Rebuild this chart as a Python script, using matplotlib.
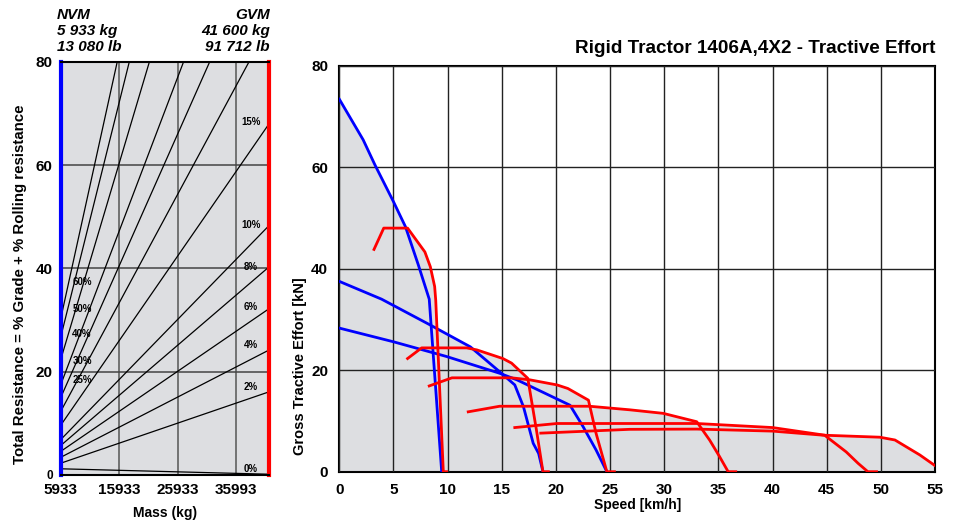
import matplotlib.pyplot as plt
import numpy as np

plt.rcParams['font.family'] = ['Liberation Sans', 'DejaVu Sans']
plt.rcParams['font.weight'] = 'bold'

# left panel: resistance lines (kN) at NVM and GVM mass
nvm_kg = 5933
gvm_kg = 41600
grades = ['0%', '2%', '4%', '6%', '8%', '10%', '15%', '20%', '25%', '30%', '40%', '50%', '60%']
res_at_nvm = [1.2, 2.3, 3.45, 4.6, 5.75, 6.9, 9.7, 12.4, 15.1, 17.6, 22.5, 26.9, 30.5]
res_at_gvm = [0.15, 16.1, 24.2, 32.2, 40.3, 48.3, 68.0, 87.2, 105.9, 123.5, 157.8, 188.6, 213.6]
mass_ticks = [5933, 15933, 25933, 35993]

right_labels = ['15%', '10%', '8%', '6%', '4%', '2%', '0%']
right_label_y = [68.4, 48.4, 40.3, 32.5, 25.2, 17.0, 1.2]
left_labels = ['60%', '50%', '40%', '30%', '25%']
left_label_y = [37.4, 32.2, 27.3, 22.1, 18.4]

# right panel: tractive effort curves (speed km/h, effort kN)
blue_1_v = [0, 2.2, 3.3, 5.0, 6.1, 7.3, 8.3, 9.45]
blue_1_f = [73.4, 65.4, 60.4, 53.2, 48.3, 40.7, 34.0, 0]
blue_2_v = [0, 3.9, 8.4, 12.1, 14.8, 16.2, 17.0, 17.9, 18.4, 18.8]
blue_2_f = [37.5, 34.0, 28.9, 24.6, 19.7, 17.1, 12.8, 5.6, 3.6, 0]
blue_3_v = [0, 5.0, 9.9, 14.8, 16.4, 21.3, 22.5, 23.7, 24.7]
blue_3_f = [28.3, 25.6, 22.7, 19.4, 18.1, 13.1, 8.9, 4.3, 0]

red_1_v = [3.2, 4.1, 6.3, 7.9, 8.4, 8.8, 8.9, 9.6, 9.9]
red_1_f = [43.8, 48.0, 48.0, 43.3, 40.4, 36.5, 33.8, 0, 0]
red_2_v = [6.3, 7.6, 11.75, 12.7, 15.1, 15.9, 17.4, 18.2, 18.8, 19.3]
red_2_f = [22.3, 24.4, 24.4, 24.0, 22.3, 21.4, 18.4, 8.2, 0, 0]
red_3_v = [8.3, 10.4, 15.9, 17.6, 20.1, 21.1, 23.0, 23.7, 24.7, 25.4]
red_3_f = [16.9, 18.5, 18.5, 18.1, 17.1, 16.4, 14.1, 7.6, 0, 0]
red_4_v = [11.9, 14.8, 23.1, 26.8, 29.9, 33.0, 34.2, 35.1, 35.9, 36.6]
red_4_f = [11.8, 12.9, 12.9, 12.2, 11.5, 9.85, 6.2, 3.0, 0, 0]
red_5_v = [16.2, 20.1, 26.8, 33.0, 40.0, 44.8, 46.8, 47.9, 48.8, 49.6]
red_5_f = [8.7, 9.5, 9.5, 9.5, 8.7, 7.2, 3.9, 1.65, 0, 0]
red_6_v = [18.6, 26.8, 33.0, 40.0, 44.65, 49.9, 51.3, 53.6, 55.0]
red_6_f = [7.6, 8.35, 8.4, 8.0, 7.2, 6.8, 6.25, 3.3, 1.2]

blues = [(blue_1_v, blue_1_f), (blue_2_v, blue_2_f), (blue_3_v, blue_3_f)]
reds = [(red_1_v, red_1_f), (red_2_v, red_2_f), (red_3_v, red_3_f),
        (red_4_v, red_4_f), (red_5_v, red_5_f), (red_6_v, red_6_f)]

fill_col = '#dddee1'

fig = plt.figure(figsize=(9.54, 5.21), dpi=100)

# ---- left panel ----
ax1 = fig.add_axes([0.0639, 0.0883, 0.218, 0.7927])
ax1.set_facecolor(fill_col)
ax1.set_xlim(nvm_kg, gvm_kg)
ax1.set_ylim(0, 80)
for m in mass_ticks[1:]:
    ax1.axvline(m, color='#555555', lw=1.1, zorder=1)
for r in [20, 40, 60]:
    ax1.axhline(r, color='#444444', lw=1.1, zorder=1)
for a, b in zip(res_at_nvm, res_at_gvm):
    ax1.plot([nvm_kg, gvm_kg], [a, b], color='black', lw=0.9, zorder=2)
for lab, y in zip(right_labels, right_label_y):
    ax1.text(38500, y, lab, fontsize=7, ha='center', va='center', zorder=3)
for lab, y in zip(left_labels, left_label_y):
    ax1.text(9551, y, lab, fontsize=7, ha='center', va='center', zorder=3)
ax1.set_xticks(mass_ticks)
ax1.set_xticklabels([str(m) for m in mass_ticks], fontsize=11, fontweight='bold')
ax1.set_yticks([0, 20, 40, 60, 80])
ax1.set_yticklabels(['0', '20', '40', '60', '80'], fontsize=11, fontweight='bold')
ax1.get_yticklabels()[0].set_fontsize(8.5)
ax1.tick_params(length=0, pad=6)
ax1.spines['left'].set_color('blue')
ax1.spines['left'].set_linewidth(3)
ax1.spines['right'].set_color('red')
ax1.spines['right'].set_linewidth(3)
ax1.spines['top'].set_linewidth(1.5)
ax1.spines['bottom'].set_linewidth(1.5)
ax1.set_xlabel('Mass (kg)', fontsize=10, fontweight='bold', labelpad=6)
ax1.set_ylabel('Total Resistance = % Grade + % Rolling resistance', fontsize=10.8,
               fontweight='bold')
ax1.yaxis.set_label_coords(-0.165, 0.4625)

fig.text(57 / 954, 1 - 8 / 521, 'NVM\n5 933 kg\n13 080 lb', fontsize=11,
         fontweight='bold', style='italic', ha='left', va='top', linespacing=1.2)
fig.text(270 / 954, 1 - 8 / 521, 'GVM\n41 600 kg\n91 712 lb', fontsize=11,
         fontweight='bold', style='italic', ha='right', va='top', linespacing=1.2,
         multialignment='right')

# ---- right panel ----
ax2 = fig.add_axes([0.3557, 0.0946, 0.6244, 0.7793])
ax2.set_xlim(0, 55)
ax2.set_ylim(0, 80)
for v, f in blues + reds:
    ax2.fill_between(v, f, 0, color=fill_col, lw=0, zorder=1)
ax2.set_xticks(np.arange(0, 56, 5))
ax2.set_yticks([0, 20, 40, 60, 80])
ax2.grid(True, color='#222222', lw=1.0, zorder=2)
ax2.set_axisbelow(False)
for v, f in blues:
    ax2.plot(v, f, color='blue', lw=2.0, zorder=4)
for v, f in reds:
    ax2.plot(v, f, color='red', lw=2.0, zorder=5)
ax2.tick_params(length=0, pad=8, labelsize=11)
for lab in ax2.get_xticklabels() + ax2.get_yticklabels():
    lab.set_fontweight('bold')
for s in ax2.spines.values():
    s.set_linewidth(1.5)
ax2.set_xlabel('Speed [km/h]', fontsize=10, fontweight='bold', labelpad=1)
ax2.set_ylabel('Gross Tractive Effort [kN]', fontsize=10.5, fontweight='bold')
ax2.yaxis.set_label_coords(-0.054, 0.26)
ax2.set_title('Rigid Tractor 1406A,4X2 - Tractive Effort', fontsize=13.6,
              fontweight='bold', loc='right', pad=9)

fig.savefig('out.png', dpi=100)
